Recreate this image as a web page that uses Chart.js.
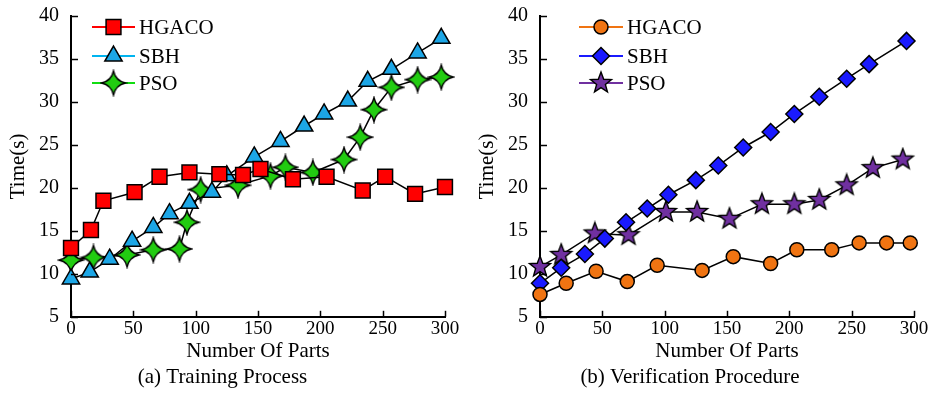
<!DOCTYPE html>
<html>
<head>
<meta charset="utf-8">
<script src="https://cdn.jsdelivr.net/npm/chart.js@4"></script>
<style>
    body { margin: 0; background: #fff; }
    #wrap { position: relative; width: 933px; height: 395px; }
    #leftBox { position: absolute; left: 0; top: 0; width: 466px; height: 395px; }
    #rightBox { position: absolute; left: 466px; top: 0; width: 467px; height: 395px; }
</style>
</head>
<body>
<div id="wrap">
    <div id="leftBox"><canvas id="trainChart"></canvas></div>
    <div id="rightBox"><canvas id="verifyChart"></canvas></div>
</div>
<script>
const seriesNames = ['HGACO', 'SBH', 'PSO'];
const xTicks = [0, 50, 100, 150, 200, 250, 300];
const yTicks = [5, 10, 15, 20, 25, 30, 35, 40];

// (a) Training Process
const trainHgacoX = [0, 16, 26, 51, 71, 95, 119, 138, 152, 178, 205, 234, 252, 276, 300];
const trainHgacoY = [13.0, 15.1, 18.5, 19.5, 21.3, 21.8, 21.6, 21.5, 22.2, 21.0, 21.3, 19.7, 21.3, 19.3, 20.1];
const trainSbhX = [0, 15, 31, 49, 66, 79, 95, 113, 125, 147, 168, 187, 203, 222, 238, 257, 278, 297];
const trainSbhY = [9.4, 10.2, 11.7, 13.8, 15.4, 17.0, 18.2, 19.5, 21.4, 23.6, 25.4, 27.2, 28.6, 30.1, 32.4, 33.8, 35.7, 37.4];
const trainPsoX = [0, 18, 45, 66, 87, 93, 104, 134, 160, 172, 194, 219, 232, 243, 257, 278, 297];
const trainPsoY = [11.6, 11.9, 12.2, 12.8, 12.9, 16.0, 19.8, 20.3, 21.4, 22.4, 21.8, 23.3, 25.9, 29.1, 31.7, 32.6, 32.9];

// (b) Verification Procedure
const verifyHgacoX = [0, 21, 45, 70, 94, 130, 155, 185, 206, 234, 256, 278, 297];
const verifyHgacoY = [7.6, 8.9, 10.3, 9.1, 11.0, 10.4, 12.0, 11.2, 12.8, 12.8, 13.6, 13.6, 13.6];
const verifySbhX = [0, 17, 36, 52, 69, 86, 103, 125, 143, 163, 185, 204, 224, 246, 264, 294];
const verifySbhY = [8.9, 10.7, 12.3, 14.1, 16.0, 17.6, 19.2, 20.9, 22.6, 24.7, 26.5, 28.6, 30.6, 32.7, 34.4, 37.1];
const verifyPsoX = [0, 17, 44, 71, 101, 126, 152, 178, 204, 224, 246, 267, 291];
const verifyPsoY = [10.8, 12.2, 14.7, 14.5, 17.2, 17.2, 16.4, 18.1, 18.1, 18.6, 20.3, 22.3, 23.3];

const FONT = "'Liberation Serif', 'Times New Roman', serif";

function toPoints(xs, ys) {
    return xs.map((x, i) => ({ x: x, y: ys[i] }));
}

function starCanvas(points, outer, inner, fill, curved) {
    const size = Math.ceil(outer * 2 + 4);
    const c = document.createElement('canvas');
    c.width = size;
    c.height = size;
    const g = c.getContext('2d');
    const cx = size / 2, cy = size / 2;
    g.beginPath();
    for (let i = 0; i < points; i++) {
        const a = -Math.PI / 2 + i * 2 * Math.PI / points;
        const b = a + Math.PI / points;
        const ox = cx + Math.cos(a) * outer, oy = cy + Math.sin(a) * outer;
        const ix = cx + Math.cos(b) * inner, iy = cy + Math.sin(b) * inner;
        if (i === 0) g.moveTo(ox, oy);
        if (curved) {
            const a2 = a + 2 * Math.PI / points;
            g.quadraticCurveTo(ix, iy, cx + Math.cos(a2) * outer, cy + Math.sin(a2) * outer);
        } else {
            g.lineTo(ox, oy);
            g.lineTo(ix, iy);
        }
    }
    g.closePath();
    g.fillStyle = fill;
    g.fill();
    g.lineWidth = 1.4;
    g.strokeStyle = '#000';
    g.stroke();
    return c;
}

const greenStar = starCanvas(4, 12, 3, '#22cc11', true);
const purpleStar = starCanvas(5, 11, 4.6, '#7030a0', false);

function makeSet(label, pts, style, fill, legendColor, radius) {
    return {
        label: label,
        data: pts,
        borderColor: '#000',
        borderWidth: 1.5,
        pointStyle: style,
        pointRadius: radius,
        pointHoverRadius: radius,
        pointBackgroundColor: fill,
        pointBorderColor: '#000',
        pointBorderWidth: 1.5,
        legendColor: legendColor,
        tension: 0,
        clip: false
    };
}

// inward ticks and line+marker legend
const decorPlugin = {
    id: 'decor',
    afterDraw(chart, args, opts) {
        const ctx = chart.ctx;
        const xs = chart.scales.x, ys = chart.scales.y;
        const area = chart.chartArea;
        ctx.save();
        ctx.strokeStyle = '#000';
        ctx.lineWidth = 1.5;
        xTicks.forEach(v => {
            const px = Math.round(xs.getPixelForValue(v)) + 0.5;
            ctx.beginPath();
            ctx.moveTo(px, area.bottom);
            ctx.lineTo(px, area.bottom - 6);
            ctx.stroke();
        });
        yTicks.forEach(v => {
            const py = Math.round(ys.getPixelForValue(v)) + 0.5;
            ctx.beginPath();
            ctx.moveTo(area.left, py);
            ctx.lineTo(area.left + 7, py);
            ctx.stroke();
        });

        const rows = [11, 40, 67];
        chart.data.datasets.forEach((ds, i) => {
            const y = area.top + rows[i];
            const x1 = area.left + opts.lineStart;
            const x2 = area.left + opts.lineEnd;
            ctx.strokeStyle = ds.legendColor;
            ctx.lineWidth = 2;
            ctx.beginPath();
            ctx.moveTo(x1, y);
            ctx.lineTo(x2, y);
            ctx.stroke();
            ctx.fillStyle = ds.pointBackgroundColor;
            ctx.strokeStyle = '#000';
            ctx.lineWidth = 1.5;
            Chart.helpers.drawPoint(ctx, {
                pointStyle: ds.pointStyle,
                radius: ds.pointRadius,
                rotation: 0,
                borderWidth: 1.5
            }, (x1 + x2) / 2, y);
            ctx.fillStyle = '#000';
            ctx.font = '21px ' + FONT;
            ctx.textAlign = 'left';
            ctx.textBaseline = 'middle';
            ctx.fillText(ds.label, x2 + 4, y + 1);
        });
        ctx.restore();
    }
};

function buildChart(canvasId, datasets, caption, axisWidth, padRight, legendPos) {
    const ctx = document.getElementById(canvasId).getContext('2d');
    return new Chart(ctx, {
        type: 'line',
        data: { datasets: datasets },
        plugins: [decorPlugin],
        options: {
            responsive: true,
            maintainAspectRatio: false,
            animation: false,
            layout: { padding: { top: 16, left: 0, right: padRight, bottom: 0 } },
            scales: {
                x: {
                    type: 'linear',
                    min: 0,
                    max: 300,
                    afterBuildTicks: (scale) => { scale.ticks = xTicks.map(v => ({ value: v })); },
                    afterFit: (scale) => {
                        scale.height = 47;
                        scale.paddingLeft = 0;
                        scale.paddingRight = 0;
                    },
                    grid: { display: false, drawTicks: false },
                    border: { display: true, color: '#000', width: 2 },
                    ticks: { color: '#000', font: { family: FONT, size: 19 }, padding: 1, maxRotation: 0 },
                    title: {
                        display: true,
                        text: 'Number Of Parts',
                        color: '#000',
                        font: { family: FONT, size: 21 },
                        padding: { top: 0, bottom: 0 }
                    }
                },
                y: {
                    min: 5,
                    max: 40,
                    afterBuildTicks: (scale) => { scale.ticks = yTicks.map(v => ({ value: v })); },
                    afterFit: (scale) => {
                        scale.width = axisWidth;
                        scale.paddingTop = 0;
                        scale.paddingBottom = 0;
                    },
                    grid: { display: false, drawTicks: false },
                    border: { display: true, color: '#000', width: 2 },
                    ticks: { color: '#000', font: { family: FONT, size: 20 }, padding: 12 },
                    title: {
                        display: true,
                        text: 'Time(s)',
                        color: '#000',
                        font: { family: FONT, size: 21 },
                        padding: { top: axisWidth - 65, bottom: 0 }
                    }
                }
            },
            plugins: {
                legend: { display: false },
                tooltip: { enabled: false },
                title: {
                    display: true,
                    position: 'bottom',
                    text: caption,
                    color: '#000',
                    font: { family: FONT, size: 21, weight: 'normal' },
                    padding: { top: 1, bottom: 5 }
                },
                decor: legendPos
            }
        }
    });
}

buildChart('trainChart', [
    makeSet(seriesNames[0], toPoints(trainHgacoX, trainHgacoY), 'rect', '#ff0000', '#ff0000', 10.5),
    makeSet(seriesNames[1], toPoints(trainSbhX, trainSbhY), 'triangle', '#1ca6e6', '#00b4f0', 10),
    makeSet(seriesNames[2], toPoints(trainPsoX, trainPsoY), greenStar, '#22cc11', '#11dd11', 12)
], '(a) Training Process', 71, 21, { lineStart: 21, lineEnd: 64 });

buildChart('verifyChart', [
    makeSet(seriesNames[0], toPoints(verifyHgacoX, verifyHgacoY), 'circle', '#f07412', '#f07412', 7),
    makeSet(seriesNames[1], toPoints(verifySbhX, verifySbhY), 'rectRot', '#1a1aff', '#1a1aff', 8.5),
    makeSet(seriesNames[2], toPoints(verifyPsoX, verifyPsoY), purpleStar, '#7030a0', '#7030a0', 11)
], '(b) Verification Procedure', 74, 19, { lineStart: 39, lineEnd: 83 });
</script>
</body>
</html>
